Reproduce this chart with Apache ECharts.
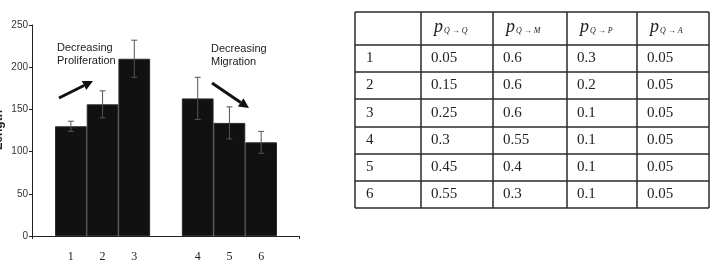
<!DOCTYPE html>
<html>
<head>
<meta charset="utf-8">
<script src="https://cdn.jsdelivr.net/npm/echarts@6/dist/echarts.min.js"></script>
<style>
  html, body { margin: 0; padding: 0; background: #fff; }
  #main { width: 712px; height: 280px; }
</style>
</head>
<body>
<div id="main"></div>
<script>
// bar chart data
const categories = ['1', '2', '3', '', '4', '5', '6'];
const lengths = [130, 156, 210, null, 163, 134, 111];
const errors = [6, 16, 22, null, 25, 19, 13];

// table data
const headSubs = ['Q \u2192 Q', 'Q \u2192 M', 'Q \u2192 P', 'Q \u2192 A'];
const rowLabels = ['1', '2', '3', '4', '5', '6'];
const pQQ = [0.05, 0.15, 0.25, 0.3, 0.45, 0.55];
const pQM = [0.6, 0.6, 0.6, 0.55, 0.4, 0.3];
const pQP = [0.3, 0.2, 0.1, 0.1, 0.1, 0.1];
const pQA = [0.05, 0.05, 0.05, 0.05, 0.05, 0.05];

const chart = echarts.init(document.getElementById('main'));

// error bar points
const errData = [];
lengths.forEach((v, i) => {
    if (v != null) errData.push([i, v, errors[i]]);
});

// table layout
const colX = [355, 421, 493, 567, 637, 709];
const rowY = [12, 45, 72, 99, 127, 154, 181, 208];
const lineStyle = { stroke: '#2a2a2a', lineWidth: 1.5 };
const serif = 'Liberation Serif, Times New Roman, serif';
const sans = 'Liberation Sans, Arial, sans-serif';

function tableGraphics() {
    let g = [];
    // horizontal lines
    rowY.forEach(y => {
        g.push({ type: 'line', shape: { x1: colX[0], y1: y, x2: colX[colX.length - 1], y2: y }, style: lineStyle });
    });
    // vertical lines
    colX.forEach(x => {
        g.push({ type: 'line', shape: { x1: x, y1: rowY[0], x2: x, y2: rowY[rowY.length - 1] }, style: lineStyle });
    });
    // header
    headSubs.forEach((s, j) => {
        g.push({
            type: 'text', x: colX[j + 1] + 13, y: (rowY[0] + rowY[1]) / 2 - 1,
            style: {
                text: '{p|p}{s|' + s + '}',
                verticalAlign: 'middle',
                rich: {
                    p: { fontFamily: serif, fontStyle: 'italic', fontSize: 18, fill: '#222' },
                    s: { fontFamily: serif, fontStyle: 'italic', fontSize: 8, fill: '#222', padding: [6, 0, 0, 1] }
                }
            }
        });
    });
    // body
    const cols = [pQQ, pQM, pQP, pQA];
    rowLabels.forEach((r, i) => {
        const cy = (rowY[i + 1] + rowY[i + 2]) / 2;
        g.push({ type: 'text', x: colX[0] + 11, y: cy, style: { text: r, fontFamily: serif, fontSize: 15, fill: '#222', verticalAlign: 'middle' } });
        cols.forEach((c, j) => {
            g.push({ type: 'text', x: colX[j + 1] + 10, y: cy, style: { text: String(c[i]), fontFamily: serif, fontSize: 15, fill: '#222', verticalAlign: 'middle' } });
        });
    });
    return g;
}

// arrow helper
function arrow(x1, y1, x2, y2) {
    const a = Math.atan2(y2 - y1, x2 - x1);
    const hl = 10, hw = 5;
    const bx = x2 - hl * Math.cos(a), by = y2 - hl * Math.sin(a);
    return [
        { type: 'line', shape: { x1: x1, y1: y1, x2: bx, y2: by }, style: { stroke: '#111', lineWidth: 3 } },
        {
            type: 'polygon',
            shape: {
                points: [[x2, y2],
                    [bx + hw * Math.sin(a), by - hw * Math.cos(a)],
                    [bx - hw * Math.sin(a), by + hw * Math.cos(a)]]
            },
            style: { fill: '#111' }
        }
    ];
}

const annText = { fontFamily: sans, fontSize: 11, fill: '#222', lineHeight: 13 };

chart.setOption({
    animation: false,
    backgroundColor: '#fff',
    grid: [
        { left: 32, right: 413, top: 25, bottom: 44, containLabel: false, outerBoundsMode: 'none' },
        { left: 55, right: 435, top: 25, bottom: 44, containLabel: false, outerBoundsMode: 'none' }
    ],
    xAxis: [{
        gridIndex: 0, type: 'value', min: 0, max: 1, interval: 1,
        axisLine: { lineStyle: { color: '#222', width: 1 } },
        axisTick: { show: true, length: 3, lineStyle: { color: '#222' } },
        axisLabel: { show: false },
        splitLine: { show: false }
    }, {
        gridIndex: 1, type: 'category', data: categories,
        axisLine: { show: false }, axisTick: { show: false },
        axisLabel: { fontFamily: serif, fontSize: 12, color: '#222', margin: 15 }
    }],
    yAxis: [{
        gridIndex: 0, type: 'value', min: 0, max: 250, interval: 50,
        axisLine: { show: true, lineStyle: { color: '#222', width: 1 } },
        axisTick: { show: true, length: 3, lineStyle: { color: '#222' } },
        axisLabel: { fontFamily: sans, fontSize: 10, color: '#333', margin: 4 },
        splitLine: { show: false }
    }, {
        gridIndex: 1, type: 'value', min: 0, max: 250, show: false
    }],
    series: [{
        type: 'bar', xAxisIndex: 1, yAxisIndex: 1,
        data: lengths, barCategoryGap: 0,
        itemStyle: { color: '#111', borderColor: '#2c2c2c', borderWidth: 1 }
    }, {
        type: 'custom', xAxisIndex: 1, yAxisIndex: 1,
        data: errData, z: 5,
        renderItem(params, api) {
            const top = api.coord([api.value(0), api.value(1) + api.value(2)]);
            const bot = api.coord([api.value(0), api.value(1) - api.value(2)]);
            const st = { stroke: '#555', lineWidth: 1 };
            return {
                type: 'group', children: [
                    { type: 'line', shape: { x1: top[0], y1: top[1], x2: bot[0], y2: bot[1] }, style: st },
                    { type: 'line', shape: { x1: top[0] - 3, y1: top[1], x2: top[0] + 3, y2: top[1] }, style: st },
                    { type: 'line', shape: { x1: bot[0] - 3, y1: bot[1], x2: bot[0] + 3, y2: bot[1] }, style: st }
                ]
            };
        }
    }],
    graphic: [
        // y-axis title, mostly cropped off the left edge as in the source
        {
            type: 'text', x: -1, y: 130, rotation: Math.PI / 2,
            style: { text: 'Length', fontFamily: sans, fontSize: 12, fontWeight: 'bold', fill: '#222', align: 'center', verticalAlign: 'middle' }
        },
        { type: 'text', x: 57, y: 41, style: Object.assign({ text: 'Decreasing\nProliferation' }, annText) },
        { type: 'text', x: 211, y: 42, style: Object.assign({ text: 'Decreasing\nMigration' }, annText) }
    ].concat(arrow(59, 98, 93, 81), arrow(212, 83, 249, 108), tableGraphics())
});
</script>
</body>
</html>
